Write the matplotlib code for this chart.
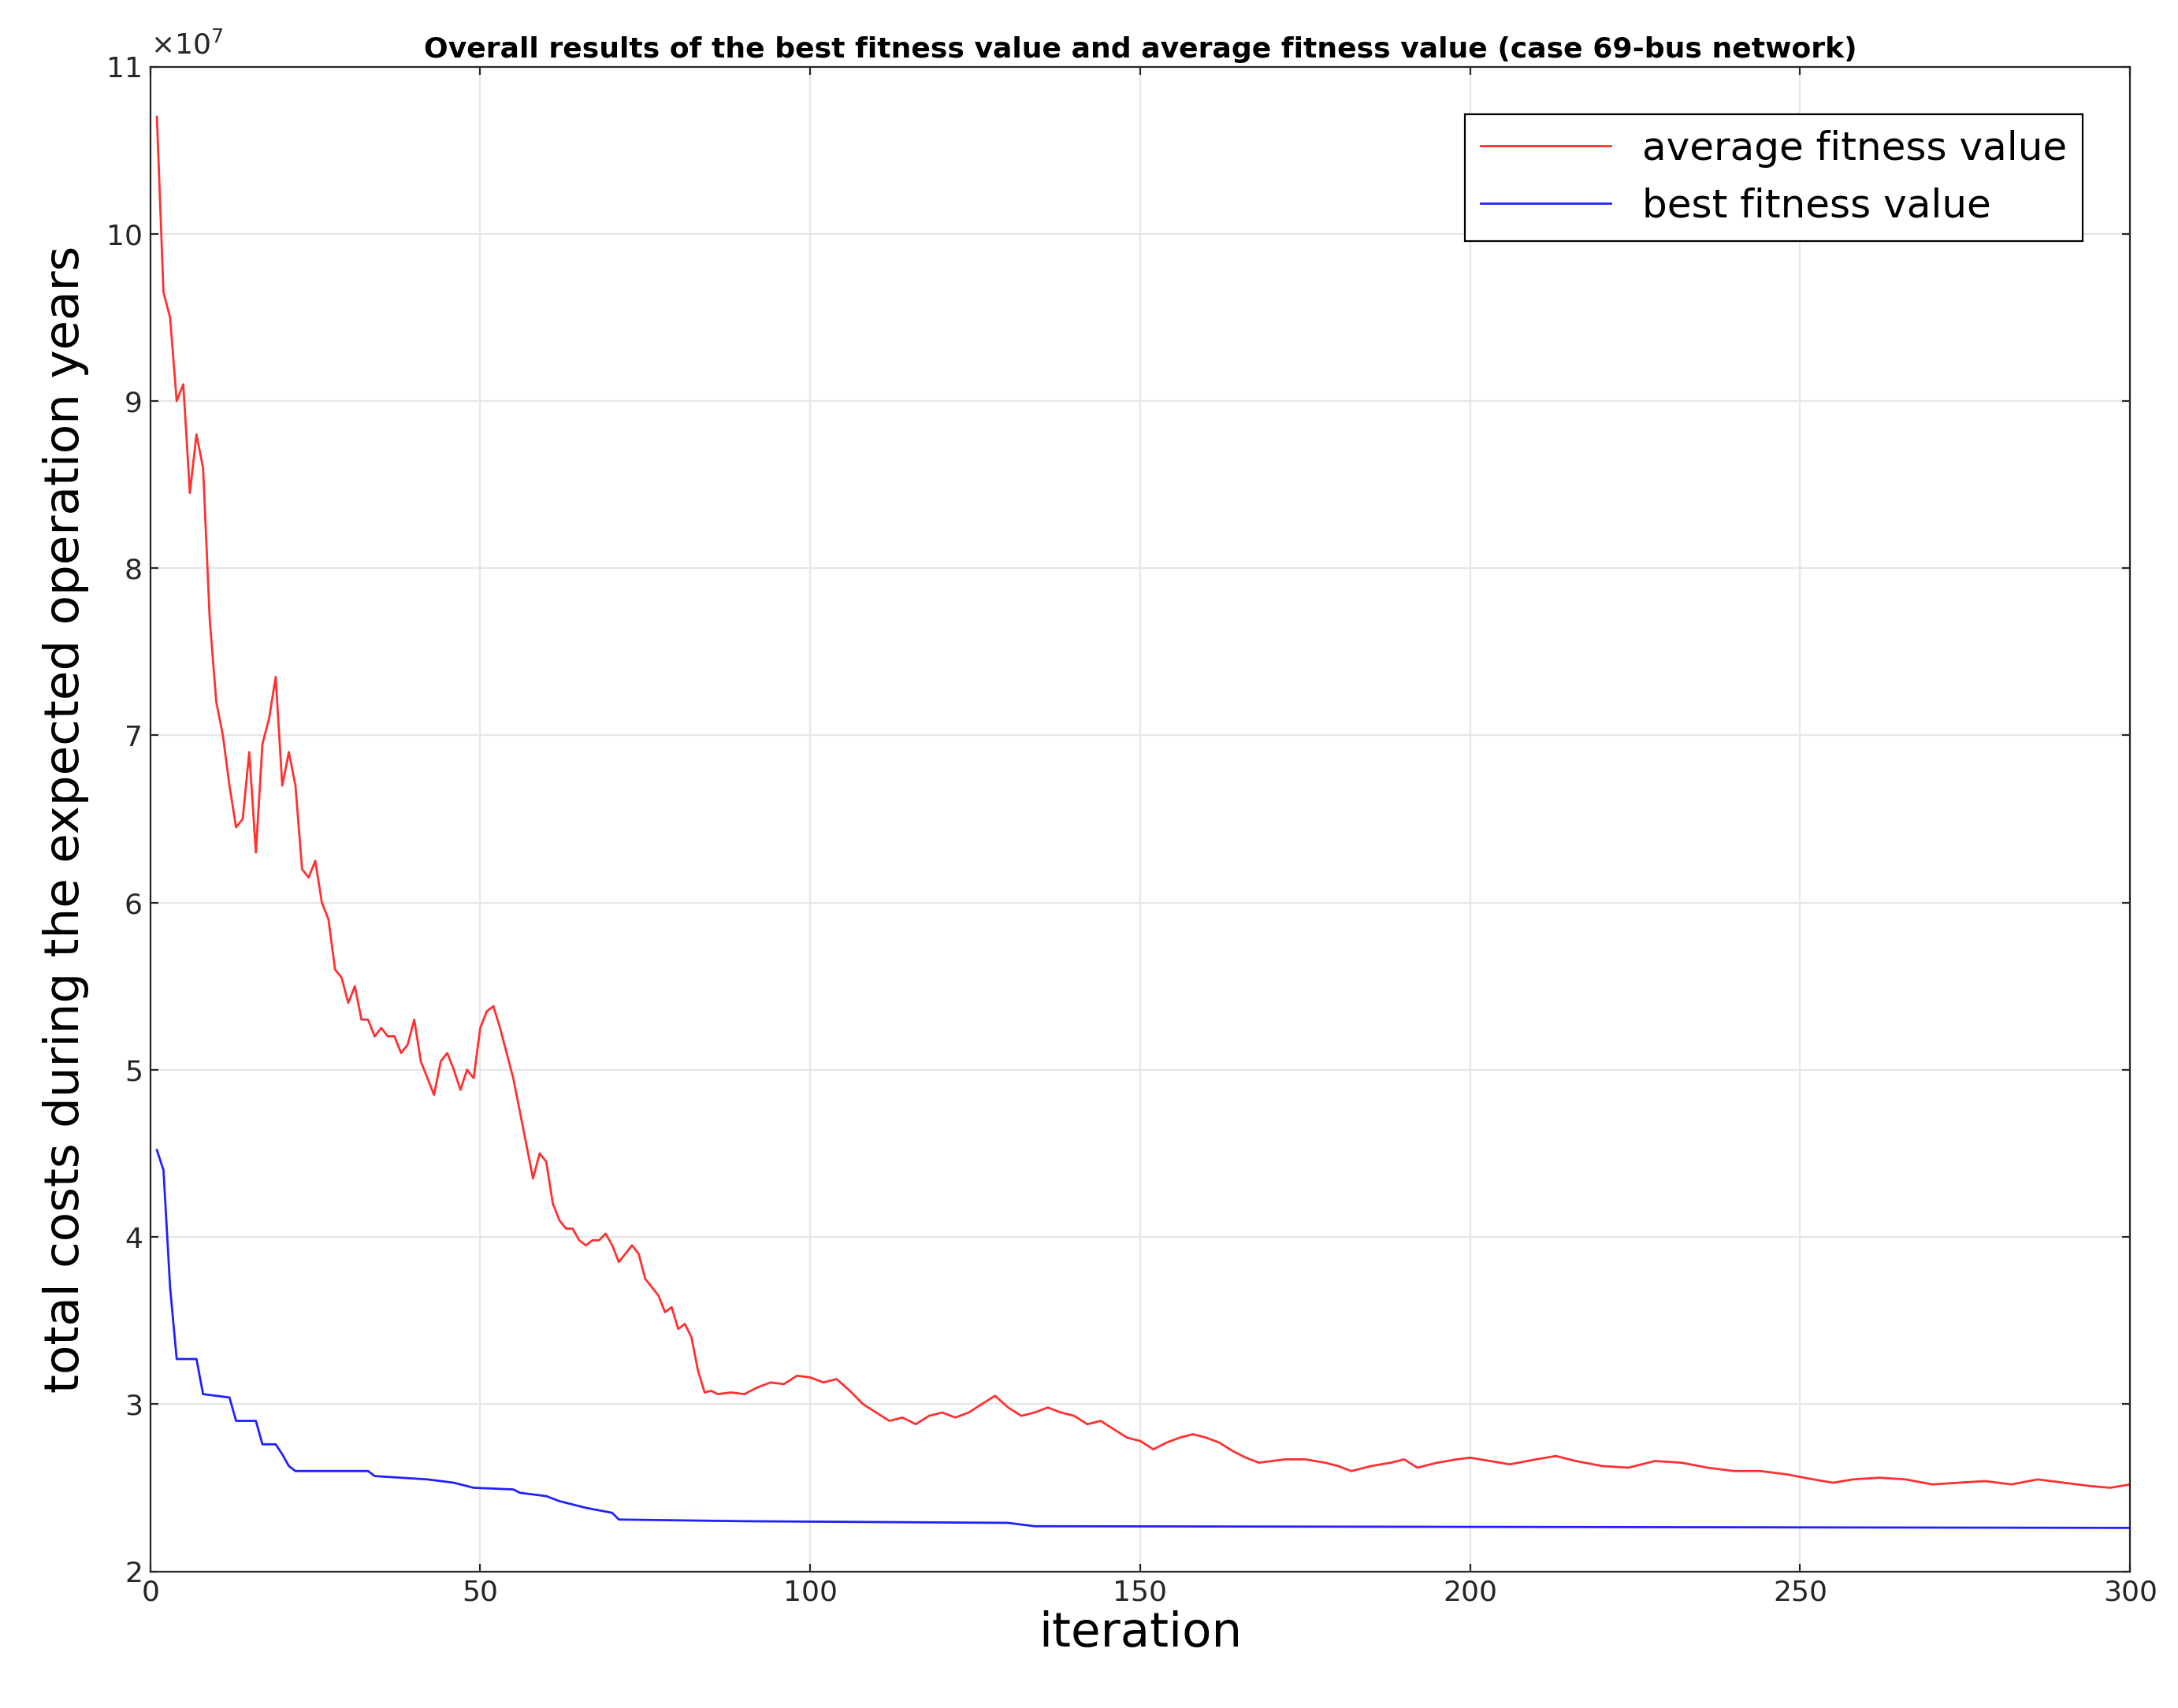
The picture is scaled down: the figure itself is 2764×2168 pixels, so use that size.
import matplotlib.pyplot as plt
import numpy as np

# ---------------------------------------------------------------------------
# Data (in units of 1e7)
# ---------------------------------------------------------------------------
avg_iter = [1, 2, 3, 4, 5, 6, 7, 8, 9, 10, 11, 12, 13, 14, 15, 16, 17, 18, 19, 20,
            21, 22, 23, 24, 25, 26, 27, 28, 29, 30, 31, 32, 33, 34, 35, 36, 37, 38, 39, 40,
            41, 42, 43, 44, 45, 46, 47, 48, 49, 50, 51, 52, 53, 54, 55, 56, 57, 58, 59, 60,
            61, 62, 63, 64, 65, 66, 67, 68, 69, 70, 71, 72, 73, 74, 75, 76, 77, 78, 79, 80,
            81, 82, 83, 84, 85, 86, 88, 90, 92, 94, 96, 98, 100, 102, 104, 106, 108, 110,
            112, 114, 116, 118, 120, 122, 124, 126, 128, 130, 132, 134, 136, 138, 140, 142,
            144, 146, 148, 150, 152, 154, 156, 158, 160, 162, 164, 166, 168, 170, 172, 175,
            178, 180, 182, 185, 188, 190, 192, 195, 198, 200, 203, 206, 210, 213, 216, 220,
            224, 228, 232, 236, 240, 244, 248, 252, 255, 258, 262, 266, 270, 274, 278, 282,
            286, 290, 294, 297, 300]
avg_val = [10.7, 9.65, 9.5, 9.0, 9.1, 8.45, 8.8, 8.6, 7.7, 7.2, 7.0, 6.7, 6.45, 6.5, 6.9, 6.3, 6.95, 7.1, 7.35, 6.7,
           6.9, 6.7, 6.2, 6.15, 6.25, 6.0, 5.9, 5.6, 5.55, 5.4, 5.5, 5.3, 5.3, 5.2, 5.25, 5.2, 5.2, 5.1, 5.15, 5.3,
           5.05, 4.95, 4.85, 5.05, 5.1, 5.0, 4.88, 5.0, 4.95, 5.25, 5.35, 5.38, 5.25, 5.1, 4.95, 4.75, 4.55, 4.35, 4.5, 4.45,
           4.2, 4.1, 4.05, 4.05, 3.98, 3.95, 3.98, 3.98, 4.02, 3.95, 3.85, 3.9, 3.95, 3.9, 3.75, 3.7, 3.65, 3.55, 3.58, 3.45,
           3.48, 3.4, 3.2, 3.07, 3.08, 3.06, 3.07, 3.06, 3.1, 3.13, 3.12, 3.17, 3.16, 3.13, 3.15, 3.08, 3.0, 2.95,
           2.9, 2.92, 2.88, 2.93, 2.95, 2.92, 2.95, 3.0, 3.05, 2.98, 2.93, 2.95, 2.98, 2.95, 2.93, 2.88,
           2.9, 2.85, 2.8, 2.78, 2.73, 2.77, 2.8, 2.82, 2.8, 2.77, 2.72, 2.68, 2.65, 2.66, 2.67, 2.67,
           2.65, 2.63, 2.6, 2.63, 2.65, 2.67, 2.62, 2.65, 2.67, 2.68, 2.66, 2.64, 2.67, 2.69, 2.66, 2.63,
           2.62, 2.66, 2.65, 2.62, 2.6, 2.6, 2.58, 2.55, 2.53, 2.55, 2.56, 2.55, 2.52, 2.53, 2.54, 2.52,
           2.55, 2.53, 2.51, 2.5, 2.52]

best_iter = [1, 2, 3, 4, 7, 8, 12, 13, 16, 17, 19, 20, 21, 22, 33, 34, 38, 42, 46, 49,
             55, 56, 60, 62, 66, 70, 71, 90, 130, 134, 300]
best_val = [4.52, 4.4, 3.7, 3.27, 3.27, 3.06, 3.04, 2.9, 2.9, 2.76, 2.76, 2.7, 2.63, 2.6, 2.6, 2.57, 2.56, 2.55, 2.53, 2.5,
            2.49, 2.47, 2.45, 2.42, 2.38, 2.35, 2.31, 2.3, 2.29, 2.27, 2.26]

# ---------------------------------------------------------------------------
# Plot
# ---------------------------------------------------------------------------
fig = plt.figure(figsize=(13.82, 10.84), dpi=200)
ax = fig.add_axes([0.069, 0.080, 0.909, 0.881])

ax.plot(avg_iter, avg_val, color="#ff3030", lw=1.0, label="average fitness value")
ax.plot(best_iter, best_val, color="#2020ff", lw=1.0, label="best fitness value")

ax.set_xlim(0, 300)
ax.set_ylim(2, 11)
ax.set_xticks(np.arange(0, 301, 50))
ax.set_yticks(np.arange(2, 12, 1))
ax.grid(True, color="#e6e6e6", lw=0.8)
ax.tick_params(direction="in", top=True, right=True, labelsize=13, colors="#262626")
for s in ax.spines.values():
    s.set_color("#262626")
    s.set_linewidth(0.8)

ax.text(0.0, 1.005, r"$\times10^7$", transform=ax.transAxes, fontsize=13, color="#262626",
        ha="left", va="bottom")
ax.set_title("Overall results of the best fitness value and average fitness value (case 69-bus network)",
             fontsize=13, fontweight="bold", pad=4)
ax.set_xlabel("iteration", fontsize=22, labelpad=2)
ax.set_ylabel("total costs during the expected operation years", fontsize=22, labelpad=8)

leg = ax.legend(loc="upper right", fontsize=18, fancybox=False, edgecolor="black",
                handlelength=3.3, borderaxespad=1.2, framealpha=1)
leg.get_frame().set_linewidth(0.8)

fig.savefig("out.png", dpi=200)
